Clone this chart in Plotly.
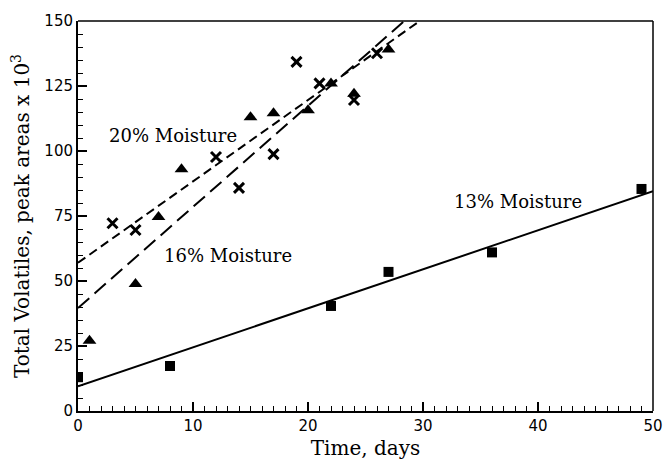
import plotly.graph_objects as go

# Data
days_13 = [0, 8, 22, 27, 36, 49]
vol_13 = [13, 17.3, 40.4, 53.5, 61, 85.4]

days_16 = [1, 5, 7, 9, 15, 17, 20, 22, 24, 27]
vol_16 = [27, 48.8, 74.6, 93, 113, 114.5, 115.7, 126, 122, 139]

days_20 = [3, 5, 12, 14, 17, 19, 21, 24, 26]
vol_20 = [72.2, 69.6, 97.7, 85.8, 98.8, 134.3, 126, 119.6, 137.6]

# Fitted lines (intercept, slope)
fit_13 = (9.5, 1.5)
fit_16 = (39.6, 3.89)
fit_20 = (57.0, 3.13)

x_ticks = [0, 10, 20, 30, 40, 50]
y_ticks = [0, 25, 50, 75, 100, 125, 150]

FONT = "DejaVu Serif"

fig = go.Figure()

def fit_line(fit, xmax_limit, ymax=150):
    b, m = fit
    xend = min(xmax_limit, (ymax - b) / m)
    return [0, xend], [b, b + m * xend]

# Lines
lx, ly = fit_line(fit_13, 50)
fig.add_trace(go.Scatter(x=lx, y=ly, mode="lines", line=dict(color="black", width=2), showlegend=False))
lx, ly = fit_line(fit_16, 50)
fig.add_trace(go.Scatter(x=lx, y=ly, mode="lines", line=dict(color="black", width=2, dash="15px,7px"), showlegend=False))
lx, ly = fit_line(fit_20, 50)
fig.add_trace(go.Scatter(x=lx, y=ly, mode="lines", line=dict(color="black", width=2, dash="9px,5px"), showlegend=False))

# Markers
fig.add_trace(go.Scatter(x=days_13, y=vol_13, mode="markers",
                         marker=dict(symbol="square", size=10, color="black"), showlegend=False))
fig.add_trace(go.Scatter(x=days_16, y=vol_16, mode="markers",
                         marker=dict(symbol="triangle-up", size=12, color="black"), showlegend=False))
fig.add_trace(go.Scatter(x=days_20, y=vol_20, mode="markers",
                         marker=dict(symbol="x-thin-open", size=10, color="black",
                                     line=dict(width=3, color="black")), showlegend=False))

# Labels
fig.add_annotation(x=8.3, y=106, text="20% Moisture", showarrow=False, font=dict(family=FONT, size=18, color="black"))
fig.add_annotation(x=13, y=60, text="16% Moisture", showarrow=False, font=dict(family=FONT, size=18, color="black"))
fig.add_annotation(x=38.3, y=80.4, text="13% Moisture", showarrow=False, font=dict(family=FONT, size=18, color="black"))

# Top & right frame lines
fig.add_shape(type="line", xref="paper", yref="paper", x0=0, x1=1, y0=1, y1=1, line=dict(color="black", width=1.5))
fig.add_shape(type="line", xref="paper", yref="paper", x0=1, x1=1, y0=0, y1=1, line=dict(color="black", width=1.5))

fig.update_xaxes(range=[0, 50], tickvals=x_ticks, ticktext=[str(v) for v in x_ticks],
                 ticks="inside", ticklen=9, tickwidth=1.5, tickcolor="black",
                 minor=dict(dtick=1, ticks="inside", ticklen=5, tickwidth=1, tickcolor="black"),
                 showline=True, linewidth=2, linecolor="black", showgrid=False, zeroline=False,
                 automargin=False,
                 title=dict(text="Time, days", font=dict(family=FONT, size=20, color="black"), standoff=7),
                 tickfont=dict(family="DejaVu Sans", size=15, color="black"))
fig.update_yaxes(range=[0, 150], tickvals=y_ticks, ticktext=[str(v) for v in y_ticks],
                 ticks="inside", ticklen=9, tickwidth=1.5, tickcolor="black",
                 minor=dict(dtick=5, ticks="inside", ticklen=5, tickwidth=1, tickcolor="black"),
                 showline=True, linewidth=2, linecolor="black", showgrid=False, zeroline=False,
                 automargin=False,
                 title=dict(text="Total Volatiles, peak areas x 10<sup>3</sup>", font=dict(family=FONT, size=20, color="black"), standoff=9),
                 tickfont=dict(family="DejaVu Sans", size=15, color="black"))

fig.update_layout(width=668, height=466, margin=dict(l=78, r=15, t=21, b=55),
                  plot_bgcolor="white", paper_bgcolor="white")

fig.write_html("out.html")
